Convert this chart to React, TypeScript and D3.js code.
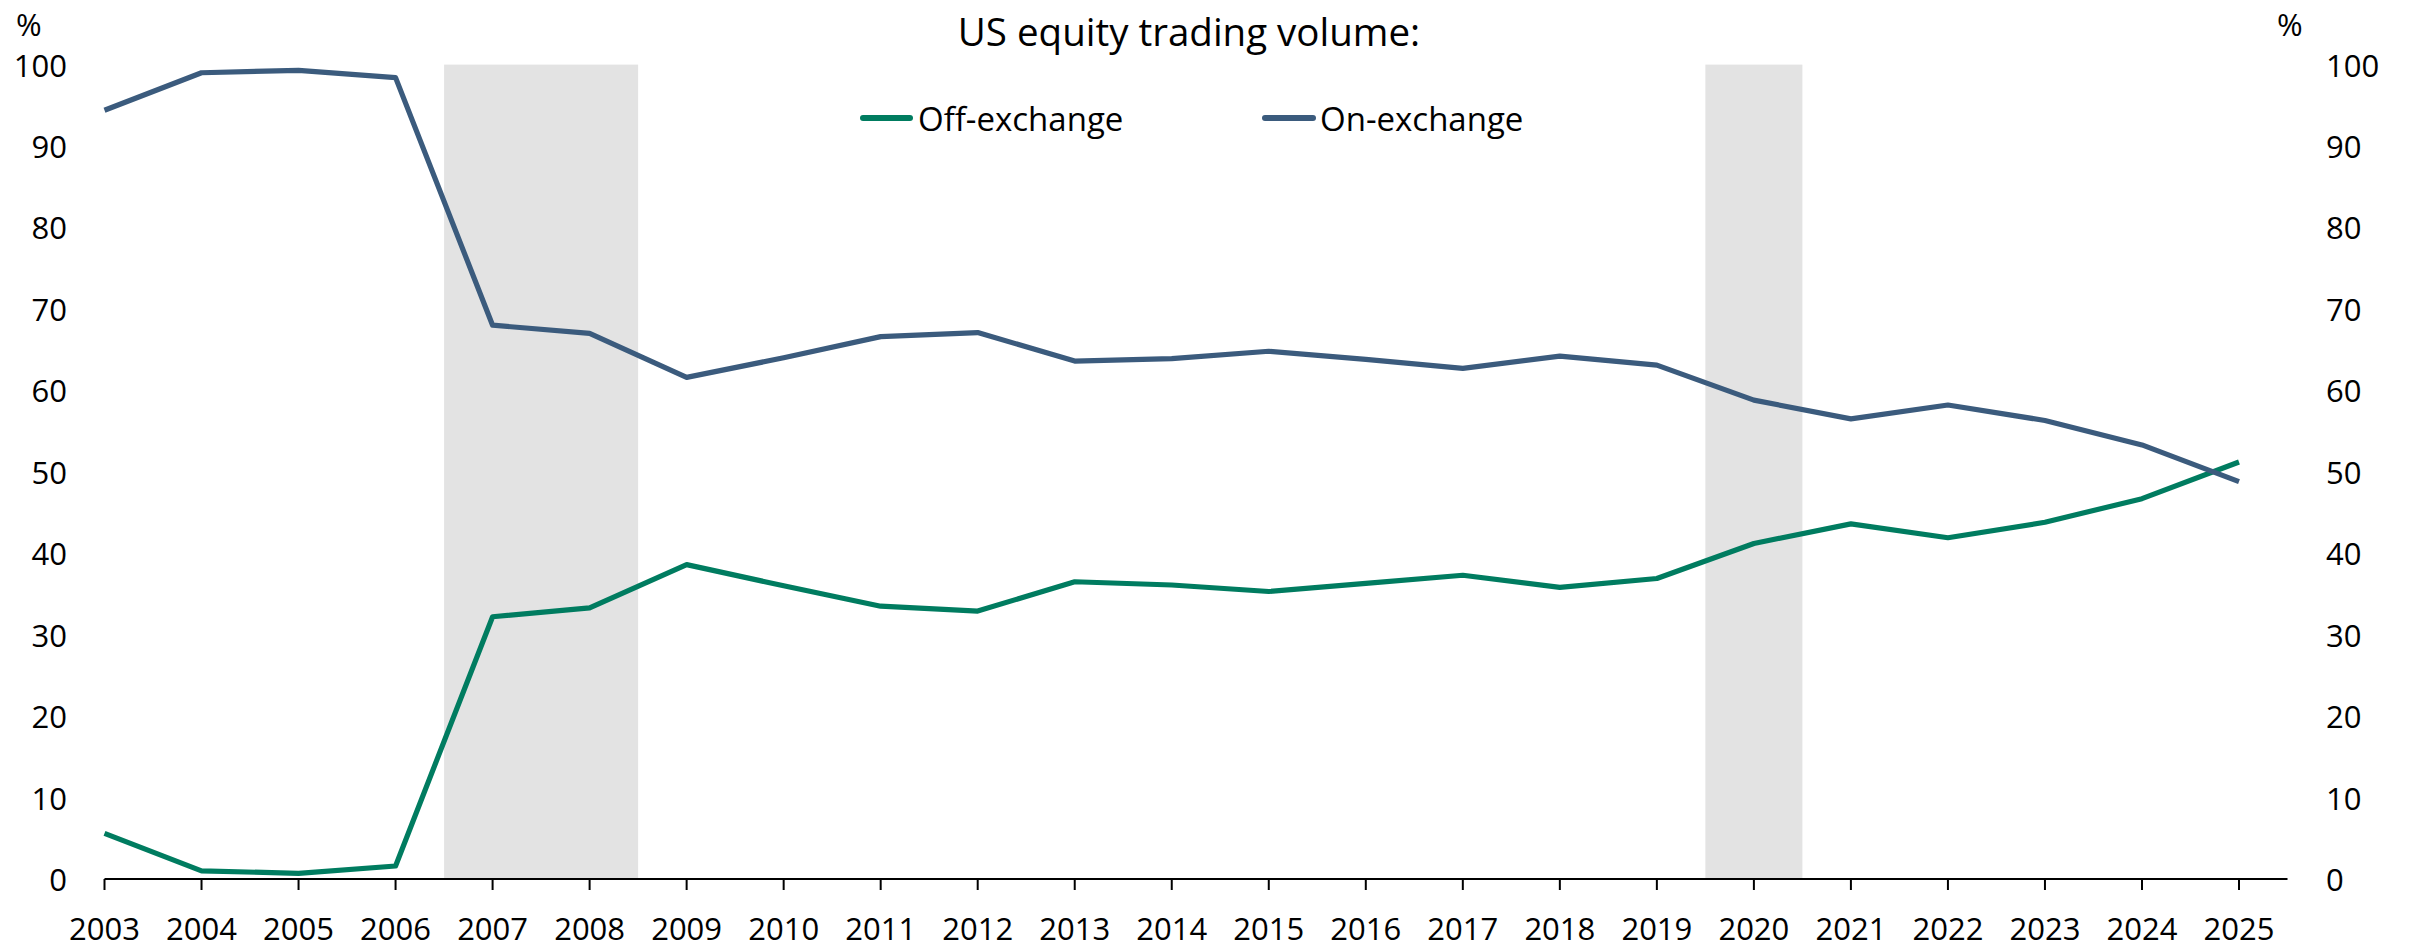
import React from "react";
import * as d3 from "d3";

const years: number[] = d3.range(2003, 2026);
const onExchange: number[] = [94.4, 99.0, 99.3, 98.4, 68.0, 67.0, 61.6, 64.0, 66.6, 67.1, 63.6, 63.9, 64.8, 63.8, 62.7, 64.2, 63.1, 58.8, 56.5, 58.2, 56.3, 53.3, 48.8];
const offExchange: number[] = [5.6, 1.0, 0.7, 1.6, 32.2, 33.3, 38.6, 36.0, 33.5, 32.9, 36.5, 36.1, 35.3, 36.3, 37.3, 35.8, 36.9, 41.2, 43.6, 41.9, 43.8, 46.7, 51.2];
const yTicks: number[] = [0, 10, 20, 30, 40, 50, 60, 70, 80, 90, 100];
const shaded: [number, number][] = [[2006.5, 2008.5], [2019.5, 2020.5]];
const title = "US equity trading volume:";
const seriesNames = ["Off-exchange", "On-exchange"];

const W = 2410, H = 948;
const FONT = "'Open Sans', 'Noto Sans', sans-serif";
const ON_COLOR = "#3B5B7D";
const OFF_COLOR = "#007C60";
const SHADE = "#E3E3E3";

export default function App() {
  const x = d3.scaleLinear().domain([2003, 2025]).range([104.5, 2239]);
  const y = d3.scaleLinear().domain([0, 100]).range([879, 64.6]);
  const line = d3.line<number>().x((_, i) => x(years[i])).y((d) => y(d));

  return (
    <svg width={W} height={H} style={{ position: "absolute", left: 0, top: 0, background: "#fff" }} fontFamily={FONT}>
      {shaded.map(([a, b], i) => (
        <rect key={i} x={x(a)} y={y(100)} width={x(b) - x(a)} height={y(0) - y(100)} fill={SHADE} />
      ))}
      <line x1={x(2003)} x2={x(2025.5)} y1={y(0)} y2={y(0)} stroke="#000" strokeWidth={2.2} />
      {years.map((yr) => (
        <g key={yr}>
          <line x1={x(yr)} x2={x(yr)} y1={y(0)} y2={y(0) + 11} stroke="#000" strokeWidth={2} />
          <text x={x(yr)} y={940} textAnchor="middle" fontSize={31} fill="#000">{yr}</text>
        </g>
      ))}
      {yTicks.map((t) => (
        <g key={t}>
          <text x={67} y={y(t)} textAnchor="end" dominantBaseline="central" fontSize={31} fill="#000">{t}</text>
          <text x={2326} y={y(t)} textAnchor="start" dominantBaseline="central" fontSize={31} fill="#000">{t}</text>
        </g>
      ))}
      <text x={16} y={24} dominantBaseline="central" fontSize={31} fill="#000">%</text>
      <text x={2277} y={24} dominantBaseline="central" fontSize={31} fill="#000">%</text>
      <text x={1189} y={31} textAnchor="middle" dominantBaseline="central" fontSize={38.5} fill="#000">{title}</text>
      <path d={line(offExchange) || ""} fill="none" stroke={OFF_COLOR} strokeWidth={5.2} strokeLinejoin="round" />
      <path d={line(onExchange) || ""} fill="none" stroke={ON_COLOR} strokeWidth={5.2} strokeLinejoin="round" />
      <line x1={863} x2={910} y1={118} y2={118} stroke={OFF_COLOR} strokeWidth={6} strokeLinecap="round" />
      <text x={918} y={118} dominantBaseline="central" fontSize={33} fill="#000">{seriesNames[0]}</text>
      <line x1={1265} x2={1313} y1={118} y2={118} stroke={ON_COLOR} strokeWidth={6} strokeLinecap="round" />
      <text x={1320} y={118} dominantBaseline="central" fontSize={33} fill="#000">{seriesNames[1]}</text>
    </svg>
  );
}
